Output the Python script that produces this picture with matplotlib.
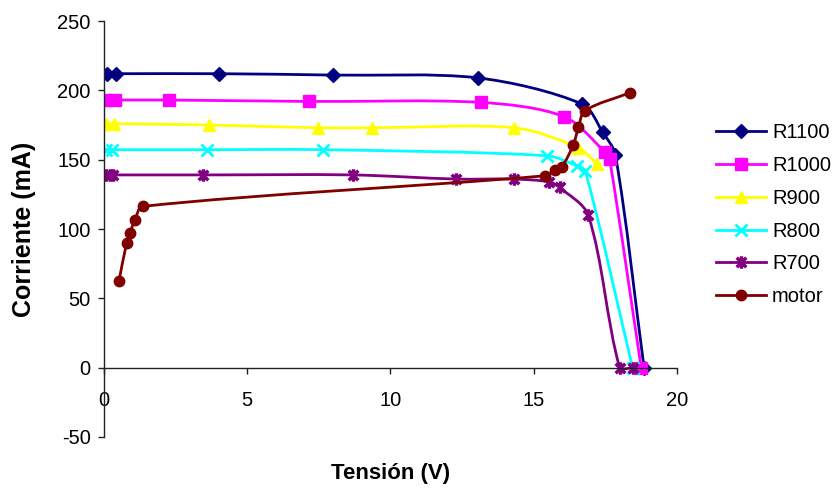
import numpy as np
import matplotlib
matplotlib.use("Agg")
import matplotlib.pyplot as plt
from matplotlib.path import Path
from matplotlib.patches import PathPatch
from matplotlib.lines import Line2D

plt.rcParams['font.family'] = ['Liberation Sans', 'DejaVu Sans']
plt.rcParams['axes.unicode_minus'] = False

# curvas I-V (tension en V, corriente en mA)
r1100_v = [0.1, 0.42, 4.0, 8.0, 13.05, 16.7, 17.4, 17.85, 18.85]
r1100_i = [212, 212, 212, 211, 209, 190, 170, 153.5, 0]

r1000_v = [0.03, 0.38, 2.27, 7.16, 13.16, 16.06, 17.5, 17.65, 18.75]
r1000_i = [193, 193, 193, 192, 191.3, 181, 155.2, 150.2, 0]

r900_v = [0.06, 0.36, 3.66, 7.46, 9.35, 14.32, 16.56, 17.22]
r900_i = [176, 176, 175, 173, 173, 173, 158.6, 146.7]

r800_v = [0.06, 0.29, 3.6, 7.63, 15.48, 16.5, 16.8, 18.45]
r800_i = [157.2, 157.2, 157.2, 157.2, 152.8, 145.6, 141.7, 0]

r700_v = [0.06, 0.21, 0.32, 3.47, 8.68, 12.3, 14.3, 15.54, 15.9, 16.9, 18.0, 18.45]
r700_i = [139, 139, 139, 139, 139, 136, 136, 134, 130, 110, 0, 0]

motor_v = [0.52, 0.79, 0.91, 1.08, 1.35, 15.39, 15.74, 15.98, 16.38, 16.56, 16.79, 18.36]
motor_i = [62.2, 89.9, 97.1, 106.7, 116.3, 138.4, 142.5, 144.9, 160.6, 173.3, 185.3, 198.3]

names = ["R1100", "R1000", "R900", "R800", "R700", "motor"]
colors = ["#000080", "#FF00FF", "#FFFF00", "#00FFFF", "#800080", "#800000"]

# asterisco tipo Excel: una X con una barra vertical
star = Path([(-1, -1), (1, 1), (-1, 1), (1, -1), (0, -1.3), (0, 1.3)],
            [Path.MOVETO, Path.LINETO, Path.MOVETO, Path.LINETO, Path.MOVETO, Path.LINETO])
markers = [("D", 7), ("s", 8), ("^", 8.5), ("x", 8), (star, 9), ("o", 7.5)]

series = [(r1100_v, r1100_i), (r1000_v, r1000_i), (r900_v, r900_i),
          (r800_v, r800_i), (r700_v, r700_i), (motor_v, motor_i)]

XMIN, XMAX, YMIN, YMAX = 0, 20, -50, 250


def smooth_path(xs, ys, sx, sy):
    # curva suavizada (como "linea suavizada" de Excel) con Bezier cubicas
    p = np.column_stack([np.asarray(xs) * sx, np.asarray(ys) * sy])
    n = len(p)
    tang = []
    for i in range(n):
        d = p[min(i + 1, n - 1)] - p[max(i - 1, 0)]
        nd = np.hypot(*d)
        tang.append(d / nd if nd > 0 else d)
    verts = [p[0]]
    codes = [Path.MOVETO]
    for i in range(n - 1):
        seg = np.hypot(*(p[i + 1] - p[i]))
        verts += [p[i] + tang[i] * seg * 0.3, p[i + 1] - tang[i + 1] * seg * 0.3, p[i + 1]]
        codes += [Path.CURVE4] * 3
    verts = np.array(verts)
    verts[:, 0] /= sx
    verts[:, 1] /= sy
    return Path(verts, codes)


fig = plt.figure(figsize=(8.36, 4.9), dpi=100)
ax = fig.add_axes([0.1244, 0.1082, 0.6854, 0.8489])

# escala en pixeles por unidad, para que el suavizado no dependa de las unidades
sx = 573 / (XMAX - XMIN)
sy = 416 / (YMAX - YMIN)

handles = []
for k, ((xs, ys), name, col, (mk, ms)) in enumerate(zip(series, names, colors, markers)):
    z = 2 + k * 0.1
    ax.add_patch(PathPatch(smooth_path(xs, ys, sx, sy), fill=False, edgecolor=col,
                           lw=2, zorder=z, capstyle='round', joinstyle='round'))
    mew = 2.5 if mk is star else (2 if mk == "x" else 1)
    ax.plot(xs, ys, linestyle='none', marker=mk, markersize=ms, color=col,
            markeredgecolor=col, markeredgewidth=mew, zorder=z + 0.05)
    handles.append(Line2D([], [], color=col, lw=2, marker=mk, markersize=ms,
                          markeredgewidth=mew, label=name))

ax.set_xlim(XMIN, XMAX)
ax.set_ylim(YMIN, YMAX)
ax.set_xticks(range(0, 21, 5))
ax.set_yticks(range(-50, 251, 50))

for s in ("top", "right"):
    ax.spines[s].set_visible(False)
ax.spines["bottom"].set_position(("data", 0))
ax.spines["left"].set_bounds(YMIN, YMAX)
for s in ("bottom", "left"):
    ax.spines[s].set_linewidth(1)
    ax.spines[s].set_color("#222222")

ax.tick_params(axis="x", direction="out", length=4.5, width=1, pad=12, labelsize=14.5, color="#222222")
ax.tick_params(axis="y", direction="out", length=4.5, width=1, pad=5, labelsize=14.5, color="#222222")

ax.set_xlabel("Tensión (V)", fontsize=16, fontweight="bold")
ax.set_ylabel("Corriente (mA)", fontsize=18, fontweight="bold")
ax.xaxis.set_label_coords(0.5, -0.088)
ax.xaxis.label.set_va("center")
ax.yaxis.set_label_coords(-0.14, 0.5)
ax.yaxis.label.set_va("center")

fig.legend(handles=handles, loc="upper left", bbox_to_anchor=(0.856, 0.748),
           frameon=False, fontsize=14.5, handlelength=2.5, handletextpad=0.3,
           labelspacing=0.68, borderpad=0, borderaxespad=0)

fig.savefig("out.png", dpi=100)
